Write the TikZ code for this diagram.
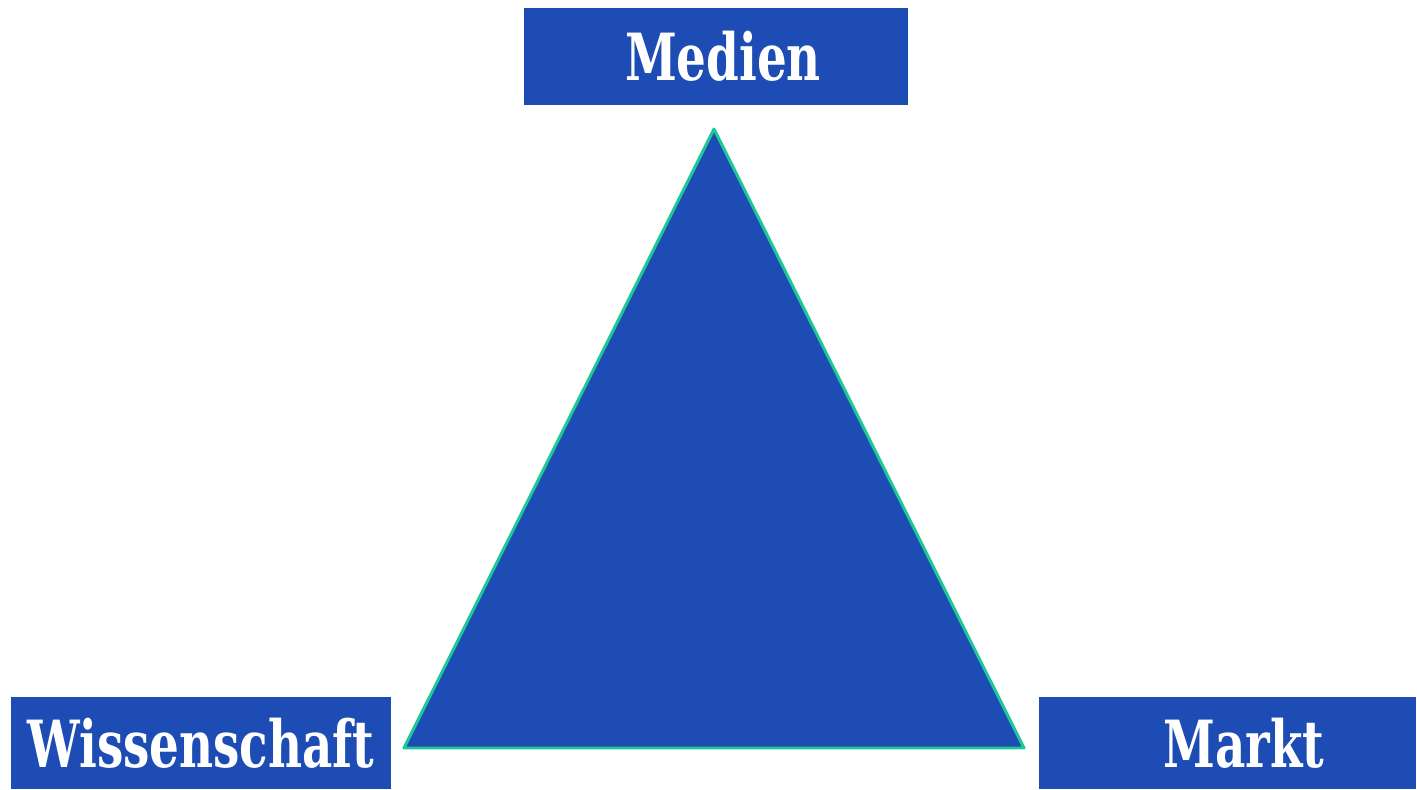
\documentclass[tikz,border=0pt]{standalone}
\usepackage{fontspec}
\usepackage{tikz}
\newfontfamily\boxfont{DejaVu Serif}[FakeStretch=0.72]
\definecolor{boxblau}{RGB}{29,76,181}
\definecolor{randgruen}{RGB}{30,200,150}

\begin{document}
\begin{tikzpicture}[
    every node/.style={fill=boxblau, text=white, inner sep=0pt, font=\boxfont\bfseries\fontsize{37}{40}\selectfont},
    feld/.style={minimum height=1.84cm, minimum width=7.6cm}, % Style für die Kästen
    dreieck/.style={fill=boxblau, draw=randgruen, line width=1.7pt, line join=round}
]
\useasboundingbox (0,0) rectangle (28.34,-15.8);

\node[feld, minimum height=1.94cm, minimum width=7.68cm] (medien) at (14.32,-1.13) {\hspace{0.28cm}Medien};
\node[feld] (wiss) at (4.02,-14.86) {Wissenschaft};
\node[feld, minimum width=7.54cm] (markt) at (24.55,-14.86) {\hspace{0.65cm}Markt};

\coordinate (spitze) at (14.28,-2.58);
\coordinate (links) at (8.08,-14.96);
\coordinate (rechts) at (20.48,-14.96);
\draw[dreieck] (spitze) -- (links) -- (rechts) -- cycle;

\end{tikzpicture}
\end{document}
